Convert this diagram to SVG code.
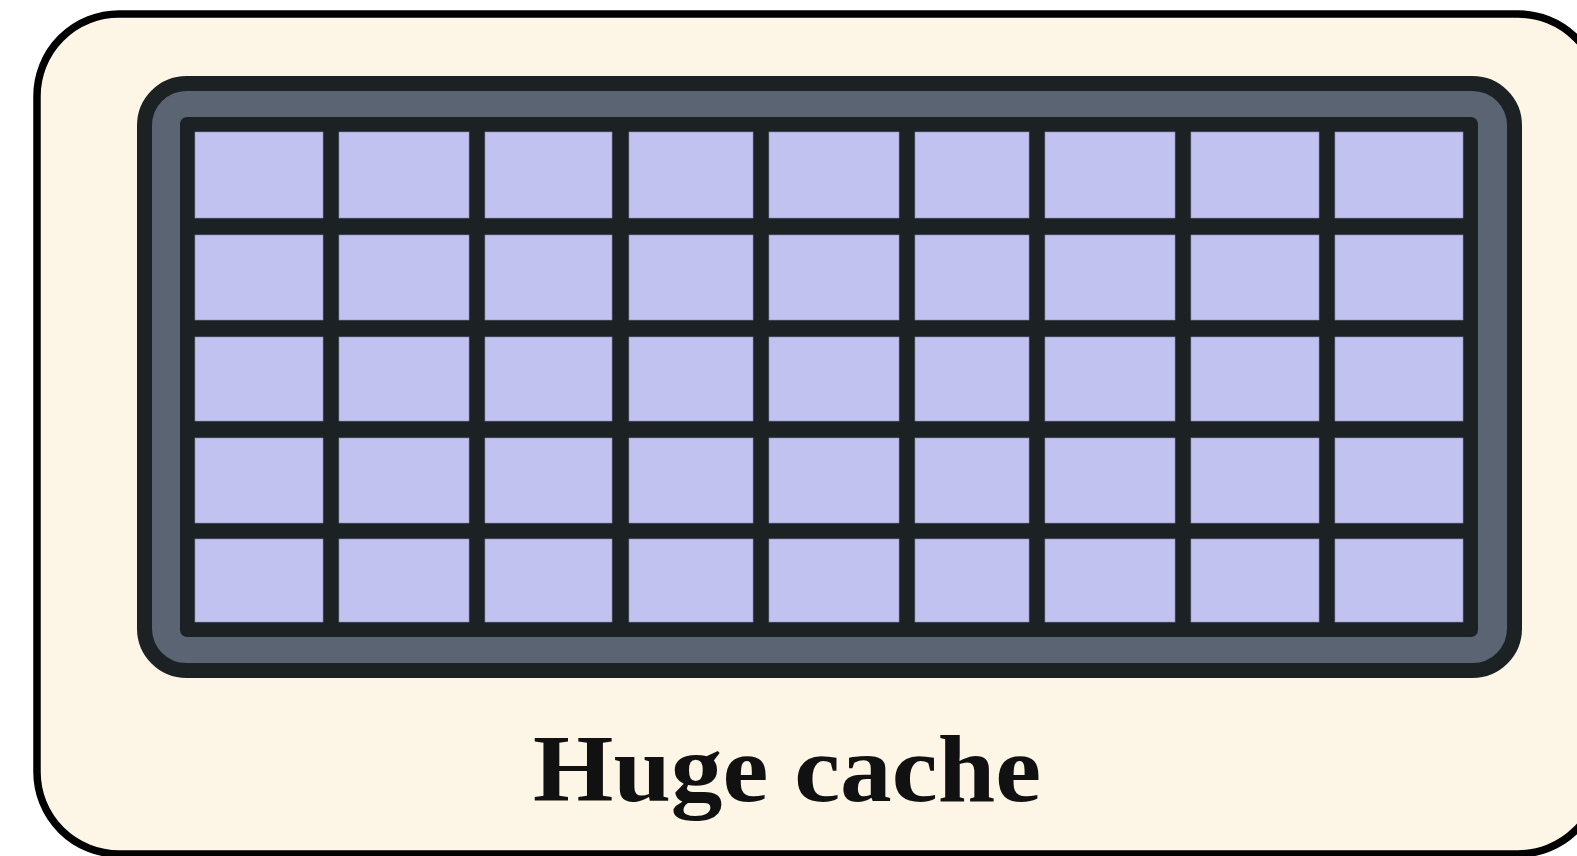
<svg xmlns="http://www.w3.org/2000/svg" width="1577" height="856" viewBox="0 0 1577 856">
<style>
.cell{fill:#c2c2f1;stroke:#8e8eb8;stroke-width:0.6}
.lbl{font-family:"Liberation Serif","DejaVu Serif",serif;font-weight:bold;font-size:96px;fill:#111}
</style>
<g id="outer">
<rect x="37" y="14" width="1563" height="840" rx="82" ry="82" fill="#fdf6e6" stroke="#000" stroke-width="7.5"/>
</g>
<g id="cache">
<rect x="144.5" y="83.5" width="1370" height="587" rx="42" ry="42" fill="#5a6472" stroke="#1c2224" stroke-width="15"/>
<rect x="180" y="117" width="1298" height="520" rx="7" ry="7" fill="#1c2224"/>
</g>
<g id="cells">
<g id="row1">
<rect class="cell" x="195" y="132" width="128" height="86"/>
<rect class="cell" x="339" y="132" width="130" height="86"/>
<rect class="cell" x="485" y="132" width="127" height="86"/>
<rect class="cell" x="629" y="132" width="124" height="86"/>
<rect class="cell" x="769" y="132" width="130" height="86"/>
<rect class="cell" x="915" y="132" width="114" height="86"/>
<rect class="cell" x="1045" y="132" width="130" height="86"/>
<rect class="cell" x="1191" y="132" width="128" height="86"/>
<rect class="cell" x="1335" y="132" width="128" height="86"/>
</g>
<g id="row2">
<rect class="cell" x="195" y="235" width="128" height="85"/>
<rect class="cell" x="339" y="235" width="130" height="85"/>
<rect class="cell" x="485" y="235" width="127" height="85"/>
<rect class="cell" x="629" y="235" width="124" height="85"/>
<rect class="cell" x="769" y="235" width="130" height="85"/>
<rect class="cell" x="915" y="235" width="114" height="85"/>
<rect class="cell" x="1045" y="235" width="130" height="85"/>
<rect class="cell" x="1191" y="235" width="128" height="85"/>
<rect class="cell" x="1335" y="235" width="128" height="85"/>
</g>
<g id="row3">
<rect class="cell" x="195" y="337" width="128" height="84"/>
<rect class="cell" x="339" y="337" width="130" height="84"/>
<rect class="cell" x="485" y="337" width="127" height="84"/>
<rect class="cell" x="629" y="337" width="124" height="84"/>
<rect class="cell" x="769" y="337" width="130" height="84"/>
<rect class="cell" x="915" y="337" width="114" height="84"/>
<rect class="cell" x="1045" y="337" width="130" height="84"/>
<rect class="cell" x="1191" y="337" width="128" height="84"/>
<rect class="cell" x="1335" y="337" width="128" height="84"/>
</g>
<g id="row4">
<rect class="cell" x="195" y="438" width="128" height="85"/>
<rect class="cell" x="339" y="438" width="130" height="85"/>
<rect class="cell" x="485" y="438" width="127" height="85"/>
<rect class="cell" x="629" y="438" width="124" height="85"/>
<rect class="cell" x="769" y="438" width="130" height="85"/>
<rect class="cell" x="915" y="438" width="114" height="85"/>
<rect class="cell" x="1045" y="438" width="130" height="85"/>
<rect class="cell" x="1191" y="438" width="128" height="85"/>
<rect class="cell" x="1335" y="438" width="128" height="85"/>
</g>
<g id="row5">
<rect class="cell" x="195" y="539" width="128" height="83"/>
<rect class="cell" x="339" y="539" width="130" height="83"/>
<rect class="cell" x="485" y="539" width="127" height="83"/>
<rect class="cell" x="629" y="539" width="124" height="83"/>
<rect class="cell" x="769" y="539" width="130" height="83"/>
<rect class="cell" x="915" y="539" width="114" height="83"/>
<rect class="cell" x="1045" y="539" width="130" height="83"/>
<rect class="cell" x="1191" y="539" width="128" height="83"/>
<rect class="cell" x="1335" y="539" width="128" height="83"/>
</g>
</g>
<g id="label">
<text class="lbl" x="787" y="801" text-anchor="middle" textLength="508" lengthAdjust="spacingAndGlyphs">Huge cache</text>
</g>
<g id="connectors"/>
</svg>
